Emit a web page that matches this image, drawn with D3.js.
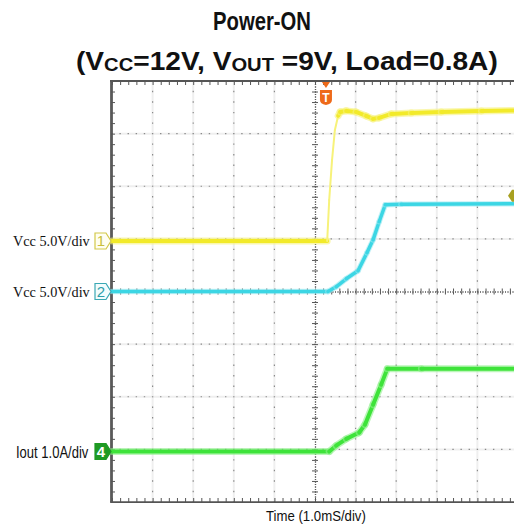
<!DOCTYPE html>
<html><head><meta charset="utf-8">
<script src="https://cdn.jsdelivr.net/npm/d3@7"></script>
<style>body{margin:0;background:#fff}svg{display:block}</style>
</head><body><svg id="c" width="514" height="524"></svg>
<script>
// ---- data (time in ms, 1.0 ms/div; trigger-centred screen) ----
const ch1Time  = [-5, 0.30, 0.35, 0.42, 0.49, 0.57, 0.62, 0.77, 1.01, 1.26, 1.43, 1.58, 1.88, 2.37, 3.11, 4.10, 5.0];
const ch1Volts = [0, 0, 3.9, 7.7, 10.55, 11.9, 12.26, 12.36, 12.26, 11.88, 11.6, 11.7, 12.07, 12.17, 12.26, 12.36, 12.4];
const ch2Time  = [-5, 0.32, 0.52, 0.77, 1.06, 1.28, 1.43, 1.58, 1.73, 2.12, 5.0];
const ch2Volts = [0, 0, 0.45, 1.21, 1.97, 3.68, 4.91, 6.63, 8.24, 8.29, 8.34];
const ch4Time  = [-5, 0.35, 0.52, 0.77, 1.09, 1.23, 1.43, 1.63, 1.78, 2.62, 5.0];
const ch4Amps  = [0, 0, 0.11, 0.24, 0.36, 0.51, 0.89, 1.27, 1.57, 1.57, 1.57];
const chLabels = ["Vcc 5.0V/div", "Vcc 5.0V/div", "Iout 1.0A/div"];
const chNumbers = ["1", "2", "4"];
const chScale = [5, 5, 1];          // units per division
const chOffset = [0.96, 0, -3.04];  // position in divisions
const xLabel = "Time (1.0mS/div)";
const triggerTime = 0.27;
const triggerLevelDiv = 1.82;

(function () {
const svg = d3.select("#c");
const x = d3.scaleLinear().domain([-5, 5]).range([112, 518]);
const y = d3.scaleLinear().domain([-4, 4]).range([502, 81]);
const L = 111, R = 514, T = y(4), B = y(-4);

const g = svg.append("g");
const minorX = d3.range(-5, 5.0001, 0.2);
const minorY = d3.range(-4, 4.0001, 0.2);
const pxX = x(0.2) - x(0), pxY = y(0) - y(0.2);

// faint grid
[-4,-3,-2,-1,1,2,3,4].forEach(t => {
  g.append("line").attr("x1", x(t)).attr("x2", x(t)).attr("y1", T).attr("y2", B)
    .attr("stroke", "#efefef").attr("stroke-width", 2);
  g.append("line").attr("x1", x(t)).attr("x2", x(t)).attr("y1", T).attr("y2", B)
    .attr("stroke", "#8a8a8a").attr("stroke-width", 1.2)
    .attr("stroke-dasharray", `1.4 ${pxY-1.4}`).attr("stroke-dashoffset", 0.7);
});
[-3,-2,-1,1,2,3].forEach(d => {
  g.append("line").attr("x1", L).attr("x2", R).attr("y1", y(d)).attr("y2", y(d))
    .attr("stroke", "#efefef").attr("stroke-width", 2);
  g.append("line").attr("x1", x(-5)).attr("x2", R).attr("y1", y(d)).attr("y2", y(d))
    .attr("stroke", "#8a8a8a").attr("stroke-width", 1.2)
    .attr("stroke-dasharray", `1.4 ${pxX-1.4}`).attr("stroke-dashoffset", 0.7);
});

function styleAxis(sel, dash) {
  sel.select(".domain").attr("stroke", "#555").attr("stroke-width", 1.2).attr("stroke-dasharray", dash || null);
  sel.selectAll(".tick line").attr("stroke", "#555").attr("stroke-width", 1);
}
// centre cross with ticks
const cH1 = g.append("g").attr("transform", `translate(0,${y(0)})`)
  .call(d3.axisBottom(x).tickValues(minorX).tickSize(3).tickSizeOuter(0).tickFormat(""));
const cH2 = g.append("g").attr("transform", `translate(0,${y(0)})`)
  .call(d3.axisTop(x).tickValues(minorX).tickSize(3).tickSizeOuter(0).tickFormat(""));
styleAxis(cH1, "1 1.5"); styleAxis(cH2, "1 1.5");
const cV1 = g.append("g").attr("transform", `translate(${x(0)},0)`)
  .call(d3.axisLeft(y).tickValues(minorY).tickSize(3).tickSizeOuter(0).tickFormat(""));
const cV2 = g.append("g").attr("transform", `translate(${x(0)},0)`)
  .call(d3.axisRight(y).tickValues(minorY).tickSize(3).tickSizeOuter(0).tickFormat(""));
styleAxis(cV1, "1 1.5"); styleAxis(cV2, "1 1.5");

// frame
const topAx = g.append("g").attr("transform", `translate(0,${T})`)
  .call(d3.axisBottom(x).tickValues(minorX).tickSize(4).tickSizeOuter(0).tickFormat(""));
styleAxis(topAx);
const botAx = g.append("g").attr("transform", `translate(0,${B})`)
  .call(d3.axisTop(x).tickValues(minorX).tickSize(4).tickSizeOuter(0).tickFormat(""));
styleAxis(botAx);
g.append("line").attr("x1", L-1).attr("x2", R).attr("y1", T).attr("y2", T).attr("stroke", "#555").attr("stroke-width", 1.8);
g.append("line").attr("x1", L-1).attr("x2", R).attr("y1", B).attr("y2", B).attr("stroke", "#555").attr("stroke-width", 1.5);
const leftAx = g.append("g").attr("transform", `translate(${L},0)`)
  .call(d3.axisRight(y).tickValues(minorY).tickSize(4).tickSizeOuter(0).tickFormat(""));
styleAxis(leftAx);
leftAx.select(".domain").attr("stroke-width", 2.8).attr("stroke", "#5a5a5a");

// traces
const chans = [
  {t: ch1Time, v: ch1Volts, i: 0, color: "#f2ea2a", halo: "#f7f27a"},
  {t: ch2Time, v: ch2Volts, i: 1, color: "#3cd6e4", halo: "#9eeaf2"},
  {t: ch4Time, v: ch4Amps,  i: 2, color: "#3ee33a", halo: "#8ff08c"}
];
const tr = svg.append("g");
chans.forEach(c => {
  const pts = c.t.map((t, k) => [x(t), y(chOffset[c.i] + c.v[k] / chScale[c.i])]);
  for (let k = 0; k < pts.length - 1; k++) {
    const [x0, y0] = pts[k], [x1, y1] = pts[k+1];
    const steep = Math.abs((y1 - y0) / Math.max(0.1, x1 - x0)) > 4;
    if (steep) {
      tr.append("line").attr("x1", x0).attr("y1", y0).attr("x2", x1).attr("y2", y1)
        .attr("stroke", c.halo).attr("stroke-width", 2).attr("stroke-linecap", "round");
    } else {
      tr.append("line").attr("x1", x0).attr("y1", y0).attr("x2", x1).attr("y2", y1)
        .attr("stroke", c.halo).attr("stroke-width", c.i === 1 ? 5.5 : 7).attr("stroke-opacity", 0.6).attr("stroke-linecap", "round");
      tr.append("line").attr("x1", x0).attr("y1", y0).attr("x2", x1).attr("y2", y1)
        .attr("stroke", c.color).attr("stroke-width", c.i === 1 ? 3.5 : 4).attr("stroke-linecap", "round");
    }
  }
});

// channel markers & labels
const markerStyle = [
  {stroke: "#d2c84a", fill: "#fffef0", text: "#c8be3a"},
  {stroke: "#3aa8b4", fill: "#f2fcfd", text: "#2e9eaa"},
  {stroke: "#1f9a24", fill: "#1f9a24", text: "#ffffff"}
];
chOffset.forEach((o, i) => {
  const cy = y(o), st = markerStyle[i];
  svg.append("path")
    .attr("d", `M95,${cy-8} L106,${cy-8} L111,${cy} L106,${cy+8} L95,${cy+8} Z`)
    .attr("fill", st.fill).attr("stroke", st.stroke).attr("stroke-width", 1.2);
  svg.append("text").attr("x", 101).attr("y", cy + 5.5).attr("text-anchor", "middle")
    .attr("font-family", "Liberation Sans, Arial, sans-serif").attr("font-size", 15)
    .attr("font-weight", i === 2 ? "bold" : "normal")
    .attr("fill", st.text).text(chNumbers[i]);
});

function fit(sel, x0, x1) {
  const bb = sel.node().getBBox();
  const s = (x1 - x0) / bb.width;
  sel.attr("transform", `translate(${x0},0) scale(${s},1) translate(${-bb.x},0)`);
}
const serif = "Liberation Serif, Times New Roman, serif";
const sans = "Liberation Sans, Arial, sans-serif";
[[0, 246, 13, 90], [1, 297, 13, 90]].forEach(([i, by, a, b]) => {
  const t = svg.append("text").attr("x", 0).attr("y", by).attr("font-family", serif)
    .attr("font-size", 15.5).attr("fill", "#111").text(chLabels[i]);
  fit(t, a, b);
});
fit(svg.append("text").attr("x", 0).attr("y", 458).attr("font-family", sans)
  .attr("font-size", 16.5).attr("fill", "#111").text(chLabels[2]), 16, 89);
fit(svg.append("text").attr("x", 0).attr("y", 521).attr("font-family", sans)
  .attr("font-size", 15).attr("fill", "#111").text(xLabel), 266, 366);

// title
fit(svg.append("text").attr("x", 0).attr("y", 30).attr("font-family", sans)
  .attr("font-size", 25.5).attr("font-weight", "bold").attr("fill", "#111").text("Power-ON"), 213, 311);
const t2 = svg.append("text").attr("x", 0).attr("y", 70).attr("font-family", sans)
  .attr("font-size", 25).attr("font-weight", "bold").attr("fill", "#111");
t2.append("tspan").text("(V");
t2.append("tspan").attr("font-size", 18).attr("dy", 1).text("CC");
t2.append("tspan").attr("dy", -1).text("=12V, V");
t2.append("tspan").attr("font-size", 18).attr("dy", 1).text("OUT");
t2.append("tspan").attr("dy", -1).text(" =9V, Load=0.8A)");
fit(t2, 76, 498);

// trigger marker
const tx = x(triggerTime);
svg.append("path").attr("d", `M${tx-4},${T+1} L${tx+4},${T+1} L${tx},${T+7} Z`).attr("fill", "#ee6a1a");
svg.append("path").attr("d", `M${tx-6},${T+9} L${tx+6},${T+9} L${tx+6},${T+19} Q${tx+6},${T+23} ${tx},${T+24} Q${tx-6},${T+23} ${tx-6},${T+19} Z`)
  .attr("fill", "#ee6a1a");
svg.append("text").attr("x", tx).attr("y", T + 20.5).attr("text-anchor", "middle")
  .attr("font-family", sans).attr("font-weight", "bold").attr("font-size", 12).attr("fill", "#fff").text("T");

// trigger level marker (right edge)
const ly = y(triggerLevelDiv);
svg.append("path").attr("d", `M508,${ly} L512,${ly-6} L516,${ly-6} L516,${ly+6} L512,${ly+6} Z`).attr("fill", "#a8a020");
})();
</script></body></html>
